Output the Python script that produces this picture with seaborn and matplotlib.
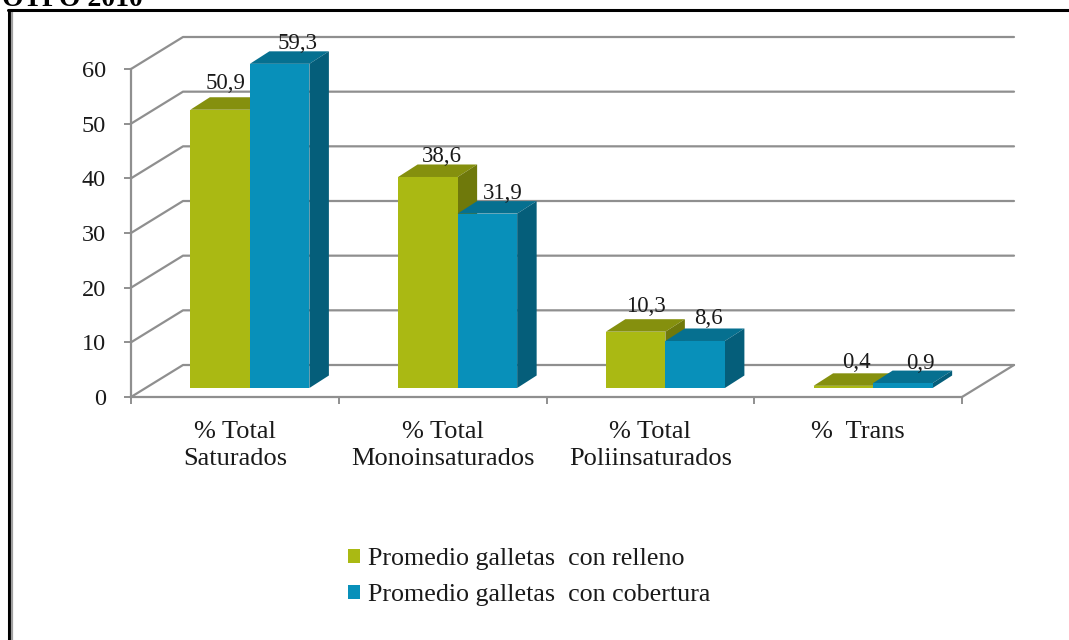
import matplotlib
matplotlib.use("Agg")
import matplotlib.pyplot as plt
import pandas as pd
import seaborn as sns
from matplotlib.lines import Line2D
from matplotlib.patches import Polygon

categories = ["% Total\nSaturados", "% Total\nMonoinsaturados", "% Total\nPoliinsaturados", "%  Trans"]
relleno = [50.9, 38.6, 10.3, 0.4]
cobertura = [59.3, 31.9, 8.6, 0.9]
series = ["Promedio galletas  con relleno", "Promedio galletas  con cobertura"]
yticks = [0, 10, 20, 30, 40, 50, 60]

green = ["#aab913", "#85900e", "#6f790b"]
blue = ["#0890ba", "#067090", "#055e7a"]
grey = "#8f8f8f"

# small label nudges in pixels (x, up)
nudges = [[(-8, 2), (1, -4), (-3, 1), (0, -1)],
          [(5, -4), (2, -4), (0, -2), (5, -4)]]

W, H = 1069, 640
px_x = 831 / 4      # pixels per category
px_y = 328 / 60     # pixels per unit

sns.set_style("white")
plt.rcParams["font.family"] = ["Liberation Serif", "DejaVu Serif"]

df = pd.DataFrame({
    "cat": categories * 2,
    "val": relleno + cobertura,
    "serie": [series[0]] * 4 + [series[1]] * 4,
})

fig = plt.figure(figsize=(W / 100, H / 100), dpi=100)
ax = fig.add_axes([131 / W, (H - 397) / H, 831 / W, 328 / H])
ax.patch.set_alpha(0)

sns.barplot(data=df, x="cat", y="val", hue="serie", order=categories, hue_order=series,
            palette=[green[0], blue[0]], width=0.573, gap=0, saturation=1, linewidth=0, ax=ax)
ax.set_xlim(-0.5, 3.5)
ax.set_ylim(0, 60)
ax.set_xlabel("")
ax.set_ylabel("")

# fake 3d: back wall and floor
wall_x, wall_y = 52 / px_x, 32 / px_y
for v in yticks:
    ax.plot([-0.5, -0.5 + wall_x, 3.5 + wall_x], [v, v + wall_y, v + wall_y],
            color=grey, lw=1.6, clip_on=False, zorder=1)
ax.plot([3.5, 3.5 + wall_x], [0, wall_y], color=grey, lw=1.6, clip_on=False, zorder=1)

# shift the fronts onto the floor, add top and side faces
shift_x, shift_y = 15 / px_x, 9 / px_y
depth_x, depth_y = 19.5 / px_x, 12.5 / px_y
for k, (cont, cols) in enumerate(zip(ax.containers, [green, blue])):
    for i, bar in enumerate(cont):
        x0 = bar.get_x() + shift_x
        w = bar.get_width()
        h = bar.get_height()
        bar.set_x(x0)
        bar.set_y(shift_y)
        bar.set_zorder(4 + 2 * k)
        bar.set_clip_on(False)
        x1 = x0 + w
        top = shift_y + h
        ax.add_patch(Polygon([(x0, top), (x1, top), (x1 + depth_x, top + depth_y), (x0 + depth_x, top + depth_y)],
                             fc=cols[1], lw=0, zorder=3 + 2 * k, clip_on=False))
        ax.add_patch(Polygon([(x1, shift_y), (x1 + depth_x, shift_y + depth_y), (x1 + depth_x, top + depth_y), (x1, top)],
                             fc=cols[2], lw=0, zorder=3 + 2 * k, clip_on=False))
        nx, ny = nudges[k][i]
        ax.text(x0 + w / 2 + (13 + nx) / px_x, top + depth_y + (6 + ny) / px_y, f"{h:.1f}".replace(".", ","),
                ha="center", va="baseline", fontsize=16.5, color="#1a1a1a", zorder=10)

sns.despine(ax=ax)
for s in ["left", "bottom"]:
    ax.spines[s].set_color(grey)
    ax.spines[s].set_linewidth(1.6)

ax.set_yticks(yticks)
ax.tick_params(axis="y", length=5, width=1.4, color=grey, pad=13, labelsize=17.5, left=True, labelcolor="#1a1a1a")
ax.set_xticks(range(4))
ax.set_xticklabels(categories)
ax.set_xticks([-0.5, 0.5, 1.5, 2.5, 3.5], minor=True)
ax.tick_params(axis="x", which="major", length=0, pad=17, labelsize=19, labelcolor="#1a1a1a")
ax.tick_params(axis="x", which="minor", length=5, width=1.4, color=grey, bottom=True)
for lab in ax.get_xticklabels():
    lab.set_linespacing(1.3)
    lab.set_va("top")

sns.move_legend(ax, "lower left", bbox_to_anchor=(348 / W, (H - 606) / H), bbox_transform=fig.transFigure,
                frameon=False, title=None, fontsize=18.7, handlelength=0.47, handleheight=0.47,
                handletextpad=0.3, labelspacing=0.53, borderpad=0, borderaxespad=0)
for t in ax.get_legend().get_texts():
    t.set_color("#1a1a1a")

# frame of the pasted picture and the cut off heading above it
fig.add_artist(Line2D([9 / W, 9 / W], [0, (H - 10) / H], color="black", lw=2.2))
fig.add_artist(Line2D([11.5 / W, 11.5 / W], [0, (H - 12) / H], color="#a0a0a0", lw=1.6))
fig.add_artist(Line2D([8 / W, 1], [(H - 10) / H, (H - 10) / H], color="black", lw=2.2))
fig.text(2 / W, (H - 6) / H, "OTPO 2010", fontsize=20, fontweight="bold", ha="left", va="baseline", color="black")

fig.savefig("out.png", dpi=100)
